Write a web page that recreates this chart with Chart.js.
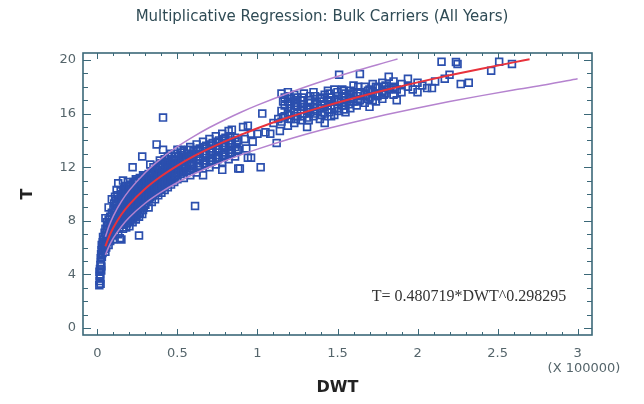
<!DOCTYPE html>
<html>

<head>
  <script src="https://cdn.jsdelivr.net/npm/chart.js@4.4.1/dist/chart.umd.min.js"></script>
<style>
  body { margin: 0; background: #fff; }
</style>
</head>
<body>

  <canvas id="myChart" width="644" height="404"></canvas>
  <script>
    // DWT in units of 100000, draft T
    var xTicks = [0, 0.5, 1, 1.5, 2, 2.5, 3];
    var yTicks = [0, 4, 8, 12, 16, 20];

    // each row: dwt, then the drafts observed near that dwt
    var draftRows = [
      [0.012, 3.2], [0.013, 4.2], [0.014, 3.5], [0.015, 3.9], [0.016, 4.4], [0.017, 3.7],
      [0.018, 4.0], [0.019, 4.7], [0.02, 3.3], [0.021, 5.2], [0.022, 4.9], [0.023, 5.5],
      [0.024, 4.3], [0.025, 4.6], [0.026, 5.8], [0.027, 6.2], [0.028, 5.3], [0.03, 6.0],
      [0.032, 5.6], [0.033, 6.4], [0.035, 6.8], [0.04, 5.9, 6.6], [0.045, 6.2, 7.1],
      [0.05, 5.7, 6.5, 7.4, 8.2], [0.055, 6.0, 6.9], [0.06, 6.4, 7.3, 7.9],
      [0.065, 6.7, 7.6], [0.07, 6.2, 7.0, 8.1, 9.0], [0.075, 6.8, 7.5], [0.08, 6.5, 7.2, 8.3],
      [0.085, 7.0, 7.8], [0.09, 6.9, 7.6, 8.6, 9.6], [0.095, 7.3], [0.1, 6.6, 7.9, 8.9],
      [0.105, 7.7, 8.4, 9.3], [0.11, 7.2, 8.0, 8.7, 9.8], [0.115, 7.4, 8.6, 9.5],
      [0.12, 7.6, 8.4, 9.2, 10.3], [0.125, 8.0, 8.9, 9.9], [0.13, 7.0, 7.9, 8.8, 10.8],
      [0.135, 7.5, 8.3, 9.6], [0.14, 6.7, 8.1, 8.6, 9.5], [0.145, 7.9, 8.8, 10.2],
      [0.15, 6.6, 7.8, 8.5, 9.1, 10.0], [0.155, 8.1, 9.0, 9.9], [0.16, 7.4, 8.2, 8.9, 9.7, 11.0],
      [0.165, 7.7, 8.6, 9.3, 10.4], [0.17, 7.9, 8.7, 9.4, 10.2], [0.175, 8.3, 9.2, 10.1],
      [0.18, 7.5, 8.3, 9.0, 9.8, 10.6], [0.185, 7.8, 8.7, 9.6, 10.3], [0.19, 8.0, 8.8, 9.5, 10.9],
      [0.195, 8.4, 9.3, 10.2], [0.2, 7.6, 8.5, 9.2, 10.0, 10.5], [0.205, 8.0, 8.9, 9.8, 10.7],
      [0.21, 8.2, 9.0, 9.7, 10.4], [0.215, 8.6, 9.5, 10.3], [0.22, 7.9, 8.7, 9.4, 10.1, 12.0],
      [0.225, 8.2, 9.1, 10.0, 10.9], [0.23, 8.4, 9.1, 9.8, 10.6], [0.235, 8.7, 9.6, 10.4],
      [0.24, 8.1, 8.9, 9.6, 10.3, 11.1], [0.245, 8.4, 9.3, 10.2, 11.0], [0.25, 8.6, 9.3, 10.0, 10.8],
      [0.255, 8.9, 9.8, 10.6], [0.26, 6.9, 8.3, 9.1, 9.9, 10.5], [0.265, 8.6, 9.5, 10.4, 11.2],
      [0.27, 8.8, 9.6, 10.3, 11.0], [0.275, 9.1, 10.0, 10.8], [0.28, 8.5, 9.4, 10.1, 10.8, 12.8],
      [0.285, 8.8, 9.7, 10.6, 11.4], [0.29, 9.0, 9.8, 10.5, 11.3], [0.295, 9.3, 10.2, 11.0],
      [0.3, 9.2, 10.0, 10.7, 11.4], [0.305, 9.5, 10.4, 11.2], [0.31, 9.6, 10.4, 11.1],
      [0.32, 9.0, 9.9, 10.6, 11.5], [0.325, 9.7, 10.6, 11.4], [0.33, 9.8, 10.5, 11.2, 12.2],
      [0.34, 9.4, 10.2, 11.0, 11.7], [0.345, 9.9, 10.8, 11.6], [0.35, 10.0, 10.7, 11.4, 12.0],
      [0.36, 9.6, 10.4, 11.1, 11.8], [0.365, 10.1, 11.0, 11.8], [0.37, 10.2, 10.9, 11.6, 13.7],
      [0.38, 9.9, 10.6, 11.3, 12.1], [0.385, 10.3, 11.2, 12.0], [0.39, 10.4, 11.1, 11.8, 12.5],
      [0.4, 10.1, 10.8, 11.5, 12.3], [0.405, 10.5, 11.4, 12.2], [0.41, 10.6, 11.3, 12.0, 13.3, 15.7],
      [0.42, 10.3, 11.0, 11.7, 12.6], [0.425, 10.7, 11.6, 12.4], [0.43, 10.8, 11.5, 12.2],
      [0.44, 10.5, 11.2, 11.9, 12.8], [0.445, 10.9, 11.8, 12.6], [0.45, 11.0, 11.7, 12.4],
      [0.46, 10.7, 11.4, 12.1, 13.0], [0.465, 11.1, 12.0, 12.8], [0.47, 11.2, 11.9, 12.6],
      [0.48, 10.9, 11.6, 12.3], [0.485, 11.3, 12.2, 13.0], [0.49, 11.4, 12.1, 12.8],
      [0.5, 11.1, 11.8, 12.5, 13.3], [0.51, 11.8, 12.5], [0.52, 11.5, 12.2, 12.9, 13.3],
      [0.53, 11.6, 12.4, 13.1], [0.54, 11.2, 11.9, 12.6, 13.2], [0.55, 12.0, 12.7],
      [0.56, 11.7, 12.4, 13.0], [0.57, 11.8, 12.6, 13.3], [0.58, 11.4, 12.1, 12.8, 13.5],
      [0.59, 12.2, 12.9], [0.6, 11.9, 12.6, 13.2], [0.61, 9.1], [0.62, 11.6, 12.3, 13.0, 13.7],
      [0.63, 12.0, 12.6, 13.3], [0.64, 12.1, 12.8, 13.4], [0.66, 11.4, 12.5, 13.2, 13.9],
      [0.67, 12.2, 12.9, 13.5], [0.68, 12.3, 13.0, 13.6], [0.7, 12.0, 12.7, 13.4, 14.1],
      [0.71, 12.4, 13.1, 13.7], [0.72, 12.5, 13.2, 13.8], [0.74, 12.2, 12.9, 13.6, 14.3],
      [0.75, 12.6, 13.3, 13.9], [0.76, 12.7, 13.4, 14.0], [0.78, 11.8, 12.4, 13.1, 13.8, 14.5],
      [0.79, 12.8, 13.5, 14.1], [0.8, 12.9, 13.6, 14.2], [0.82, 12.6, 13.3, 14.0, 14.7],
      [0.83, 13.0, 13.7, 14.3], [0.84, 13.1, 13.8, 14.8], [0.86, 12.8, 13.5, 14.2],
      [0.87, 13.2, 13.9], [0.88, 11.9, 13.3, 14.0], [0.89, 11.9],
      [0.91, 15.0], [0.92, 14.1], [0.93, 13.4], [0.94, 12.7, 15.1], [0.96, 12.7, 14.5], [0.97, 13.9],
      [1.0, 14.5], [1.02, 12.0], [1.03, 16.0], [1.05, 14.6], [1.08, 14.5], [1.1, 15.3],
      [1.12, 13.8], [1.13, 15.6], [1.14, 14.7], [1.15, 15.4, 16.2, 17.5], [1.16, 15.7, 16.9],
      [1.17, 15.8, 16.6, 17.2], [1.19, 15.1, 16.0, 16.9, 17.6], [1.2, 15.9, 16.7, 17.3],
      [1.21, 15.6, 16.4, 17.1], [1.23, 15.3, 16.1, 16.8, 17.4], [1.24, 15.6, 16.6, 17.0],
      [1.25, 15.8, 16.5, 17.2], [1.27, 15.5, 16.3, 17.0], [1.28, 15.8, 16.5, 17.2],
      [1.29, 16.0, 16.7, 17.5], [1.31, 15.0, 15.7, 16.4], [1.32, 15.5, 16.3, 17.0],
      [1.33, 16.1, 16.8, 17.3], [1.35, 15.8, 16.5, 17.6], [1.36, 16.0, 16.7, 17.3], [1.37, 16.2, 16.9],
      [1.39, 15.6, 16.4, 17.1], [1.4, 15.9, 16.6, 17.2], [1.42, 15.3, 16.0, 16.7, 17.4],
      [1.44, 16.3, 17.0, 17.7], [1.45, 16.1, 16.9, 17.5], [1.46, 15.8, 16.6, 17.2],
      [1.48, 15.9, 16.4, 17.0, 17.8], [1.5, 16.4, 17.1, 17.6], [1.51, 16.2, 16.9, 18.9],
      [1.53, 16.6, 17.3, 17.8], [1.54, 16.3, 17.0, 17.7], [1.55, 16.1, 16.8, 17.5],
      [1.57, 16.7, 17.4], [1.58, 16.4, 17.1, 17.7], [1.6, 16.9, 17.5, 18.1], [1.62, 16.6, 17.3],
      [1.63, 16.9, 17.5, 18.0], [1.64, 17.0, 17.6, 18.95], [1.67, 16.8, 17.4, 18.0],
      [1.69, 17.1, 17.7], [1.7, 16.5, 17.2, 17.8], [1.72, 17.0, 17.6, 18.2],
      [1.74, 16.9, 17.5, 18.0], [1.75, 17.3, 17.9], [1.78, 17.1, 17.7, 18.3], [1.79, 17.4, 18.0],
      [1.8, 17.5, 18.1], [1.82, 17.8, 18.75], [1.85, 17.4, 18.0, 18.4],
      [1.87, 17.0, 17.8], [1.9, 17.6, 18.2], [1.94, 18.0, 18.6], [1.97, 17.8], [2.0, 17.6, 18.3],
      [2.03, 18.1], [2.06, 17.9], [2.09, 17.9], [2.11, 18.4], [2.15, 19.87], [2.17, 18.6],
      [2.2, 18.9], [2.24, 19.85], [2.25, 19.7], [2.27, 18.2], [2.32, 18.3], [2.46, 19.2],
      [2.51, 19.87], [2.59, 19.7]
    ];

    // fitted curve T= 0.480719*DWT^0.298295
    var fitDwt = [0.05, 0.075, 0.1, 0.15, 0.2, 0.3, 0.4, 0.5, 0.6, 0.7, 0.8, 0.9, 1.0, 1.2, 1.4, 1.6, 1.8, 2.0, 2.2, 2.4, 2.6, 2.7];
    var fitDraft = [6.10, 6.88, 7.50, 8.47, 9.22, 10.41, 11.34, 12.12, 12.80, 13.40, 13.95, 14.44, 14.91, 15.74, 16.48, 17.15, 17.76, 18.33, 18.86, 19.35, 19.82, 20.05];

    var upperDwt = [0.05, 0.075, 0.1, 0.15, 0.2, 0.3, 0.4, 0.5, 0.6, 0.7, 0.8, 0.9, 1.0, 1.2, 1.4, 1.6, 1.8, 1.875];
    var upperDraft = [6.81, 7.68, 8.37, 9.45, 10.29, 11.61, 12.66, 13.53, 14.28, 14.96, 15.56, 16.12, 16.63, 17.56, 18.39, 19.14, 19.82, 20.07];

    var lowerDwt = [0.05, 0.075, 0.1, 0.15, 0.2, 0.3, 0.4, 0.5, 0.6, 0.7, 0.8, 0.9, 1.0, 1.2, 1.4, 1.6, 1.8, 2.0, 2.2, 2.4, 2.6, 2.8, 3.0];
    var lowerDraft = [5.46, 6.17, 6.72, 7.58, 8.26, 9.33, 10.16, 10.86, 11.47, 12.01, 12.49, 12.94, 13.35, 14.10, 14.77, 15.36, 15.91, 16.42, 16.90, 17.34, 17.76, 18.15, 18.60];

    function pairs(xs, ys) {
      return xs.map(function (v, i) { return {x: v, y: ys[i]}; });
    }

    var points = [];
    draftRows.forEach(function (r) {
      r.slice(1).forEach(function (t) { points.push({x: r[0], y: t}); });
    });

    var frameTicks = {
      id: 'frameTicks',
      afterDraw: function (chart) {
        var ctx = chart.ctx, a = chart.chartArea;
        var x = chart.scales.x, y = chart.scales.y;
        ctx.save();
        ctx.strokeStyle = '#3b6878';
        ctx.lineWidth = 1;
        ctx.beginPath();
        for (var i = 0; i <= 30; i++) {
          var px = Math.round(x.getPixelForValue(i / 10)) + 0.5;
          var len = i % 5 == 0 ? 6 : 3;
          ctx.moveTo(px, a.bottom); ctx.lineTo(px, a.bottom - len);
          ctx.moveTo(px, a.top); ctx.lineTo(px, a.top + len);
        }
        for (var j = 0; j <= 20; j++) {
          var py = Math.round(y.getPixelForValue(j)) + 0.5;
          var l = j % 4 == 0 ? 8 : 5;
          ctx.moveTo(a.left, py); ctx.lineTo(a.left + l, py);
          ctx.moveTo(a.right, py); ctx.lineTo(a.right - l, py);
        }
        ctx.stroke();
        ctx.lineWidth = 1.6;
        ctx.strokeRect(a.left, a.top, a.right - a.left, a.bottom - a.top);

        ctx.textAlign = 'center';
        ctx.textBaseline = 'middle';
        ctx.fillStyle = '#2f4b55';
        ctx.font = '15px "DejaVu Sans"';
        ctx.fillText('Multiplicative Regression: Bulk Carriers (All Years)', 322, 17);

        ctx.fillStyle = '#55656b';
        ctx.font = '13px "DejaVu Sans"';
        ctx.fillText('(X 100000)', 584, 369);

        ctx.fillStyle = '#333';
        ctx.font = '16px "Liberation Serif"';
        ctx.fillText('T= 0.480719*DWT^0.298295', 469, 297);
        ctx.restore();
      }
    };

    var ctx = document.getElementById("myChart");

    var myChart = new Chart(ctx, {
      type: 'scatter',
      data: {
        datasets: [
          {
            label: 'fit',
            data: pairs(fitDwt, fitDraft),
            showLine: true,
            borderColor: '#e8323c',
            borderWidth: 2,
            pointRadius: 0,
            cubicInterpolationMode: 'monotone'
          },
          {
            label: 'upper',
            data: pairs(upperDwt, upperDraft),
            showLine: true,
            borderColor: '#b583cf',
            borderWidth: 1.5,
            pointRadius: 0,
            cubicInterpolationMode: 'monotone'
          },
          {
            label: 'lower',
            data: pairs(lowerDwt, lowerDraft),
            showLine: true,
            borderColor: '#b583cf',
            borderWidth: 1.5,
            pointRadius: 0,
            cubicInterpolationMode: 'monotone'
          },
          {
            label: 'ships',
            data: points,
            pointStyle: 'rect',
            pointRadius: 4.8,
            borderWidth: 1.7,
            borderColor: '#2b4fae',
            backgroundColor: 'rgba(255,255,255,0)'
          }
        ]
      },
      options: {
        responsive: false,
        animation: false,
        layout: { padding: { top: 53, right: 52, left: 0, bottom: 0 } },
        plugins: {
          legend: { display: false },
          tooltip: { enabled: false },
          title: { display: false }
        },
        scales: {
          x: {
            type: 'linear',
            min: -0.09,
            max: 3.09,
            afterBuildTicks: function (s) { s.ticks = xTicks.map(function (v) { return {value: v}; }); },
            afterFit: function (s) { s.height = 69; },
            grid: { display: false, drawTicks: false },
            border: { display: false },
            ticks: {
              autoSkip: false, maxRotation: 0, padding: 11,
              color: '#55656b',
              font: { family: 'DejaVu Sans', size: 13 },
              callback: function (v) { return String(v); }
            },
            title: {
              display: true,
              text: 'DWT',
              color: '#222',
              font: { family: 'DejaVu Sans', size: 16, weight: 'bold' },
              padding: { top: 0, bottom: 7 }
            }
          },
          y: {
            type: 'linear',
            min: -0.52,
            max: 20.52,
            afterBuildTicks: function (s) { s.ticks = yTicks.map(function (v) { return {value: v}; }); },
            afterFit: function (s) { s.width = 83; },
            grid: { display: false, drawTicks: false },
            border: { display: false },
            ticks: {
              autoSkip: false, padding: 7,
              color: '#55656b',
              font: { family: 'DejaVu Sans', size: 13 },
              callback: function (v) { return String(v); }
            },
            title: {
              display: true,
              text: 'T',
              color: '#222',
              font: { family: 'DejaVu Sans', size: 16, weight: 'bold' },
              padding: { top: 18, bottom: 0 }
            }
          }
        }
      },
      plugins: [frameTicks]
    });
  </script>

</body>
</html>
